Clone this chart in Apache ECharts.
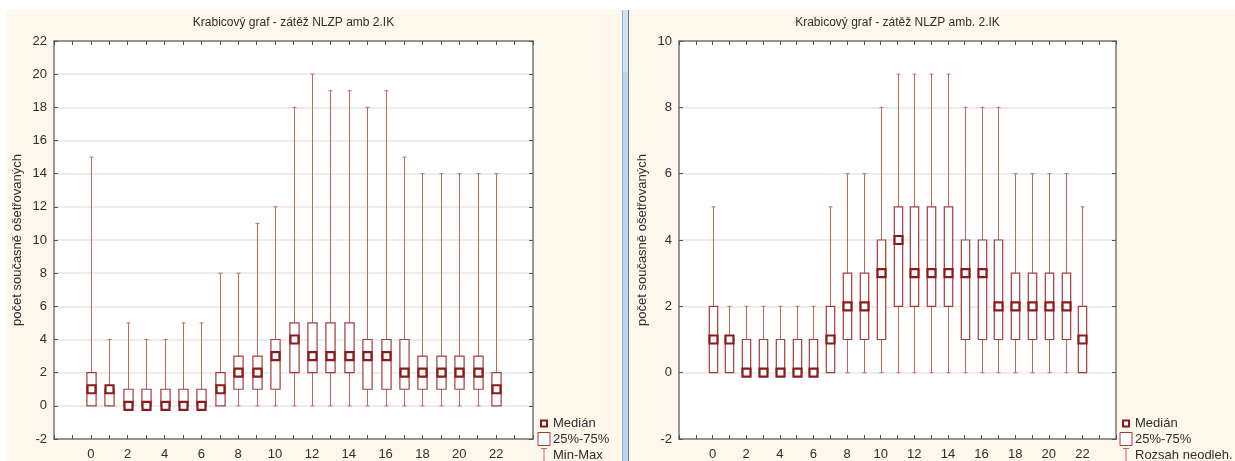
<!DOCTYPE html>
<html>
<head>
<meta charset="utf-8">
<script src="https://cdn.jsdelivr.net/npm/echarts@6/dist/echarts.min.js"></script>
<style>
  html, body { margin: 0; padding: 0; background: #ffffff; }
  #chart { width: 1235px; height: 461px; }
</style>
</head>
<body>
<div id="chart"></div>
<script>
// Hour of day (x axis)
const hours = [0, 1, 2, 3, 4, 5, 6, 7, 8, 9, 10, 11, 12, 13, 14, 15, 16, 17, 18, 19, 20, 21, 22];
const xTickLabels = [0, 2, 4, 6, 8, 10, 12, 14, 16, 18, 20, 22];

// Left panel: median, quartiles and min-max
const minLeft    = [0, 0, 0, 0, 0, 0, 0, 0, 0, 0, 0, 0, 0, 0, 0, 0, 0, 0, 0, 0, 0, 0, 0];
const q1Left     = [0, 0, 0, 0, 0, 0, 0, 0, 1, 1, 1, 2, 2, 2, 2, 1, 1, 1, 1, 1, 1, 1, 0];
const medianLeft = [1, 1, 0, 0, 0, 0, 0, 1, 2, 2, 3, 4, 3, 3, 3, 3, 3, 2, 2, 2, 2, 2, 1];
const q3Left     = [2, 1, 1, 1, 1, 1, 1, 2, 3, 3, 4, 5, 5, 5, 5, 4, 4, 4, 3, 3, 3, 3, 2];
const maxLeft    = [15, 4, 5, 4, 4, 5, 5, 8, 8, 11, 12, 18, 20, 19, 19, 18, 19, 15, 14, 14, 14, 14, 14];

// Right panel: median, quartiles and non-outlier range
const minRight    = [0, 0, 0, 0, 0, 0, 0, 0, 0, 0, 0, 0, 0, 0, 0, 0, 0, 0, 0, 0, 0, 0, 0];
const q1Right     = [0, 0, 0, 0, 0, 0, 0, 0, 1, 1, 1, 2, 2, 2, 2, 1, 1, 1, 1, 1, 1, 1, 0];
const medianRight = [1, 1, 0, 0, 0, 0, 0, 1, 2, 2, 3, 4, 3, 3, 3, 3, 3, 2, 2, 2, 2, 2, 1];
const q3Right     = [2, 1, 1, 1, 1, 1, 1, 2, 3, 3, 4, 5, 5, 5, 5, 4, 4, 4, 3, 3, 3, 3, 2];
const maxRight    = [5, 2, 2, 2, 2, 2, 2, 5, 6, 6, 8, 9, 9, 9, 9, 8, 8, 8, 6, 6, 6, 6, 5];

const titleLeft = 'Krabicový graf - zátěž NLZP amb 2.IK';
const titleRight = 'Krabicový graf - zátěž NLZP amb. 2.IK';
const yName = 'počet současně ošetřovaných';
const legendLeft = ['Medián', '25%-75%', 'Min-Max'];
const legendRight = ['Medián', '25%-75%', 'Rozsah neodleh.'];

const FONT = '"Liberation Sans", Arial, sans-serif';
const TEXT = '#2e2e2e';
const WHISKER = '#c46666';
const BOX = '#a83a3a';
const MEDIAN = '#8c1a1a';
const CREAM = '#fef8ec';

function rows(mn, q1, md, q3, mx) {
  return hours.map((h, i) => [h, mn[i], q1[i], md[i], q3[i], mx[i]]);
}

// One box: whiskers with caps, quartile box, hollow median square
function renderBox(params, api) {
  const x = api.value(0);
  const lo = api.coord([x, api.value(1)]);
  const q1 = api.coord([x, api.value(2)]);
  const md = api.coord([x, api.value(3)]);
  const q3 = api.coord([x, api.value(4)]);
  const hi = api.coord([x, api.value(5)]);
  const unit = api.size([1, 0])[0];
  const bw = unit * 0.5;
  const cx = Math.round(lo[0]) + 0.5;
  const cap = 2;
  const ms = 8;
  const children = [];
  const line = (x1, y1, x2, y2) => ({
    type: 'line',
    shape: { x1, y1, x2, y2 },
    style: { stroke: WHISKER, lineWidth: 1 }
  });
  if (hi[1] < q3[1]) {
    children.push(line(cx, q3[1], cx, hi[1]));
    children.push(line(cx - cap, hi[1], cx + cap, hi[1]));
  }
  if (lo[1] > q1[1]) {
    children.push(line(cx, q1[1], cx, lo[1]));
    children.push(line(cx - cap, lo[1], cx + cap, lo[1]));
  }
  children.push({
    type: 'rect',
    shape: { x: cx - bw / 2, y: q3[1], width: bw, height: Math.max(q1[1] - q3[1], 0) },
    style: { fill: '#ffffff', stroke: BOX, lineWidth: 1.2 }
  });
  children.push({
    type: 'rect',
    shape: { x: cx - ms / 2, y: md[1] - ms / 2, width: ms, height: ms },
    style: { fill: '#ffffff', stroke: MEDIAN, lineWidth: 2.2 }
  });
  return { type: 'group', children };
}

const grids = [
  { left: 54, top: 41, width: 479, height: 401 },
  { left: 679, top: 41, width: 437, height: 401 }
];

const axisLineStyle = { color: '#777777', width: 1.5 };
const tickStyle = { show: true, inside: true, length: 4, lineStyle: { color: '#555555' } };

function xAxes(gi) {
  const base = {
    gridIndex: gi, type: 'value', min: -2, max: 24, interval: 1,
    axisLine: { show: true, onZero: false, lineStyle: axisLineStyle },
    axisTick: tickStyle, splitLine: { show: false }
  };
  return [
    Object.assign({}, base, {
      position: 'bottom',
      axisLabel: {
        color: TEXT, fontSize: 13, fontFamily: FONT, margin: 9,
        formatter: v => (xTickLabels.indexOf(v) >= 0 ? String(v) : '')
      }
    }),
    Object.assign({}, base, { position: 'top', axisLabel: { show: false } })
  ];
}

function yAxes(gi, maxV) {
  const base = {
    gridIndex: gi, type: 'value', min: -2, max: maxV, interval: 2,
    axisLine: { show: true, onZero: false, lineStyle: axisLineStyle },
    axisTick: tickStyle
  };
  return [
    Object.assign({}, base, {
      position: 'left',
      name: yName, nameLocation: 'middle', nameGap: 30, nameRotate: 90,
      nameTextStyle: { color: TEXT, fontSize: 13, fontFamily: FONT },
      axisLabel: { color: TEXT, fontSize: 13, fontFamily: FONT, margin: 7 },
      splitLine: { show: true, lineStyle: { color: '#e6e6e6', width: 1.5 } }
    }),
    Object.assign({}, base, { position: 'right', axisLabel: { show: false }, splitLine: { show: false } })
  ];
}

function legendGroup(x, labels) {
  const tx = x + 9;
  const txt = (t, y) => ({
    type: 'text', x: tx, y,
    style: { text: t, fill: TEXT, font: '13px ' + FONT, textVerticalAlign: 'middle' }
  });
  return [
    { type: 'rect', shape: { x: x - 3, y: 420.5, width: 6, height: 6 },
      style: { fill: '#ffffff', stroke: MEDIAN, lineWidth: 2 } },
    txt(labels[0], 423.5),
    { type: 'rect', shape: { x: x - 6, y: 432.5, width: 12, height: 13 },
      style: { fill: '#ffffff', stroke: BOX, lineWidth: 1 } },
    txt(labels[1], 439.5),
    { type: 'line', shape: { x1: x, y1: 448, x2: x, y2: 463 }, style: { stroke: WHISKER, lineWidth: 1 } },
    { type: 'line', shape: { x1: x - 3, y1: 448.5, x2: x + 3, y2: 448.5 }, style: { stroke: WHISKER, lineWidth: 1 } },
    txt(labels[2], 455.5)
  ];
}

const chart = echarts.init(document.getElementById('chart'), null, { renderer: 'canvas' });

chart.setOption({
  backgroundColor: '#ffffff',
  animation: false,
  grid: grids.map(g => Object.assign({ show: true, backgroundColor: '#ffffff', borderWidth: 0 }, g)),
  xAxis: xAxes(0).concat(xAxes(1)),
  yAxis: yAxes(0, 22).concat(yAxes(1, 10)),
  graphic: [
    // panel backgrounds and the splitter between them
    { type: 'rect', z: -10, silent: true, shape: { x: 6, y: 10, width: 616, height: 451 }, style: { fill: CREAM } },
    { type: 'rect', z: -10, silent: true, shape: { x: 629, y: 10, width: 606, height: 451 }, style: { fill: CREAM } },
    { type: 'rect', z: -10, silent: true, shape: { x: 622, y: 10, width: 7, height: 451 }, style: { fill: '#bcd3ee' } },
    { type: 'rect', z: -9, silent: true, shape: { x: 623, y: 10, width: 5, height: 62 }, style: { fill: '#d3e2f4' } },
    { type: 'line', z: -9, silent: true, shape: { x1: 622.5, y1: 10, x2: 622.5, y2: 461 }, style: { stroke: '#8fb0da', lineWidth: 1 } },
    { type: 'line', z: -9, silent: true, shape: { x1: 628.5, y1: 10, x2: 628.5, y2: 461 }, style: { stroke: '#6d7784', lineWidth: 1 } },
    // titles
    { type: 'text', x: 293.5, y: 23, style: { text: titleLeft, fill: TEXT, font: '12px ' + FONT, textAlign: 'center', textVerticalAlign: 'middle' } },
    { type: 'text', x: 897.5, y: 23, style: { text: titleRight, fill: TEXT, font: '12px ' + FONT, textAlign: 'center', textVerticalAlign: 'middle' } }
  ].concat(legendGroup(544, legendLeft)).concat(legendGroup(1126, legendRight)),
  series: [
    {
      type: 'custom', name: 'left', xAxisIndex: 0, yAxisIndex: 0, clip: false,
      renderItem: renderBox,
      encode: { x: 0, y: [1, 2, 3, 4, 5] },
      data: rows(minLeft, q1Left, medianLeft, q3Left, maxLeft)
    },
    {
      type: 'custom', name: 'right', xAxisIndex: 2, yAxisIndex: 2, clip: false,
      renderItem: renderBox,
      encode: { x: 0, y: [1, 2, 3, 4, 5] },
      data: rows(minRight, q1Right, medianRight, q3Right, maxRight)
    }
  ]
});
</script>
</body>
</html>
